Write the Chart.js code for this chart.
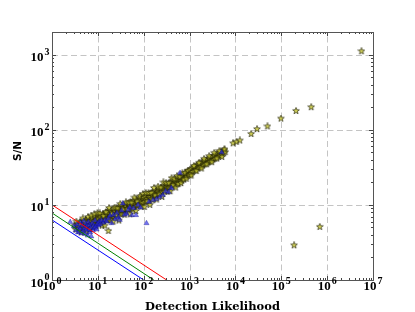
<!DOCTYPE html>
<html>
<head>
<meta charset="utf-8">
<script src="https://cdn.jsdelivr.net/npm/chart.js@4/dist/chart.umd.min.js"></script>
<style>
  body { margin: 0; background: #fff; }
</style>
</head>
<body>
<canvas id="ichart" width="415" height="312"></canvas>
<script>
// Detection likelihood vs S/N
// stars: main sequence, low end (DL 3 - 11)
const starDL_a = [3.1,3.3,3.5,3.7,3.9,4.1,4.3,4.4,4.6,4.8,5.0,5.1,5.3,5.5,5.7,5.9,6.1,6.3,6.5,6.7,6.9,7.1,7.4,7.6,7.9,8.2,8.5,8.8,9.1,9.4,9.7,10.0,10.3,10.6,10.9,
    3.4,3.9,4.3,4.7,5.2,5.6,6.1,6.6,7.2,7.8,8.4,9.0,9.8,10.5];
const starSN_a = [5.3,4.7,5.6,5.0,4.5,5.9,5.2,4.8,5.5,6.1,4.6,5.8,5.1,6.3,4.9,5.6,6.0,5.3,6.5,4.8,5.9,6.2,5.4,6.7,5.7,6.0,6.9,5.5,6.4,5.9,7.1,6.2,6.6,5.8,7.3,
    6.0,5.4,4.3,6.6,5.9,4.4,6.9,4.7,7.2,5.0,7.5,5.2,7.8,5.6];
// DL 11 - 100
const starDL_b = [11.3,11.7,12.1,12.5,13.0,13.4,13.9,14.4,14.9,15.4,16.0,16.6,17.2,17.8,18.4,19.1,19.8,20.5,21.2,22.0,22.8,23.6,24.5,25.4,26.3,27.2,28.2,29.2,30.3,31.4,32.5,33.7,34.9,36.2,37.5,38.8,40.2,41.7,43.2,44.7,46.3,48.0,49.7,51.5,53.4,55.3,57.3,59.4,61.5,63.7,66.0,68.4,70.9,73.4,76.1,78.8,81.6,84.6,87.6,90.8,94.1,97.5,
    11.0,12.3,13.2,14.1,15.1,16.3,17.5,18.9,20.2,21.6,23.2,24.9,26.8,28.7,30.8,33.0,35.5,38.1,40.9,43.9,47.1,50.6,54.3,58.3,62.6,67.2,72.1,77.4,83.1,89.2,95.7];
const starSN_b = [6.8,5.9,7.2,6.4,7.6,6.1,7.0,6.6,7.9,6.3,7.4,8.2,6.7,7.7,7.1,8.4,6.9,7.9,7.3,8.7,7.0,8.1,7.6,9.0,7.3,8.5,7.9,9.3,7.6,8.8,8.2,9.7,7.9,9.1,8.5,10.1,8.2,9.5,8.8,10.4,8.6,9.9,9.2,10.9,8.9,10.2,9.6,11.3,9.3,10.6,10.0,11.8,9.7,11.0,10.4,12.2,10.1,11.5,10.8,12.7,10.5,11.9,
    7.7,5.3,7.1,5.3,8.0,6.3,9.1,6.2,7.6,6.0,9.2,7.3,9.0,6.2,10.3,7.5,8.7,7.4,10.8,8.7,10.7,7.5,10.7,8.7,12.5,8.3,11.1,9.8,13.0,9.5,13.9];
// DL 100 - 1000
const starDL_c = [101,105,109,113,118,123,128,133,139,145,151,157,164,171,178,186,194,202,211,220,229,239,249,260,271,282,294,307,320,334,348,363,378,394,411,428,446,465,485,506,527,549,572,596,621,647,674,702,732,763,795,829,864,900,938,978,
    104,111,119,127,136,146,156,167,179,191,205,219,235,251,269,288,308,330,353,378,405,433,464,497,532,569,609,652,698,747,800,856,917,982];
const starSN_c = [12.4,10.9,13.0,11.5,12.1,13.6,11.3,12.8,14.1,12.0,13.4,14.8,12.6,14.0,13.2,15.4,13.7,14.9,16.0,14.2,15.5,16.7,14.9,16.3,17.5,15.6,17.0,18.3,16.2,17.7,19.1,16.9,18.5,20.0,17.6,19.3,20.8,18.4,20.1,21.7,19.2,21.0,22.6,20.0,21.9,23.6,20.9,22.8,24.6,22.4,24.9,26.3,23.8,26.9,28.4,25.6,
    9.4,14.4,11.1,14.4,10.0,14.4,11.5,16.8,13.4,11.8,17.5,13.7,17.0,12.8,19.9,15.0,19.6,15.0,19.4,15.2,22.7,18.2,22.2,17.0,24.2,18.9,23.6,19.5,26.3,21.7,26.7,22.3,28.6,24.7];
// DL 1000 - 6000
const starDL_d = [1020,1065,1110,1160,1210,1265,1320,1380,1440,1500,1570,1640,1710,1790,1870,1950,2040,2130,2220,2320,2420,2530,2640,2760,2880,3010,3140,3280,3430,3580,3740,3900,4080,4260,4450,4650,4850,5070,5290,5530,5770,6020,
    1090,1240,1410,1600,1820,2070,2350,2670,3040,3450,3920,4460,5070,5760];
const starSN_d = [28.8,25.9,30.1,27.4,31.2,28.6,32.3,29.4,33.4,30.6,34.5,31.5,35.6,32.4,36.7,33.5,37.6,34.6,38.8,35.6,40.0,36.7,41.2,37.8,42.4,39.0,43.6,40.1,44.8,41.4,46.0,42.6,47.5,44.0,48.8,45.4,50.3,47.0,51.8,48.6,53.5,50.4,
    24.6,33.0,28.2,36.3,30.5,41.0,34.7,44.6,37.0,49.3,41.4,52.3,43.6,55.1];
// isolated stars
const starDL_e = [17,8900,10500,12500,22000,29600,50000,98000,210000,450000,5600000,190000,690000];
const starSN_e = [4.5,66,69,72,88,102,111,141,178,200,1110,2.9,5.1];

// blue triangles
const triDL = [2.5,3.0,3.3,3.5,3.7,3.9,4.1,4.2,4.4,4.6,4.8,4.9,5.1,5.3,5.5,5.6,5.8,6.0,6.2,6.4,6.6,6.8,7.0,7.2,7.5,7.8,8.1,8.4,8.7,9.0,9.4,9.8,10.2,10.7,11.2,
    12,13,14.3,15.5,17,18.5,20,22,24,26,28,30,33,35,38,42,46,50,55,60,68,75,85,115,130,160,190,225,260,300,350,400,620,5000];
const triSN = [5.9,5.2,4.6,5.5,4.3,5.0,4.8,5.8,4.2,5.3,4.5,6.1,4.9,4.1,5.6,4.7,5.2,3.9,5.9,4.6,5.4,4.3,5.0,3.8,5.7,4.6,5.3,4.9,6.2,5.1,4.7,5.6,5.3,6.0,5.5,
    6.2,5.8,6.3,6.0,6.6,7.2,5.7,7.4,6.5,7.8,6.8,6.3,8.4,10.4,7.4,7.6,8.6,9.3,7.3,9.0,7.3,10.0,9.2,5.7,11.0,11.6,12.0,12.8,13.5,15.2,14.8,16.8,26.6,50];

// threshold lines (start at DL = 1, end where S/N = 1)
const redDL = [1, 316];
const redSN = [10, 1];
const greenDL = [1, 166];
const greenSN = [7.8, 1];
const blueDL = [1, 100];
const blueSN = [6.3, 1];

const xTicks = [1, 10, 100, 1000, 10000, 100000, 1000000, 10000000];
const yTicks = [1, 10, 100, 1000];

function toPoints(xs, ys) {
    const out = [];
    for (let i = 0; i < xs.length; i++) out.push({ x: xs[i], y: ys[i] });
    return out;
}

const starPts = [].concat(
    toPoints(starDL_a, starSN_a), toPoints(starDL_b, starSN_b),
    toPoints(starDL_c, starSN_c), toPoints(starDL_d, starSN_d),
    toPoints(starDL_e, starSN_e));

// five pointed star marker
function makeStar(size) {
    const c = document.createElement("canvas");
    c.width = size; c.height = size;
    const ctx = c.getContext("2d");
    const cx = size / 2, cy = size / 2, R = size / 2 - 0.5, r = R * 0.42;
    ctx.beginPath();
    for (let i = 0; i < 10; i++) {
        const a = -Math.PI / 2 + i * Math.PI / 5;
        const rr = i % 2 === 0 ? R : r;
        ctx.lineTo(cx + rr * Math.cos(a), cy + rr * Math.sin(a));
    }
    ctx.closePath();
    ctx.fillStyle = "rgba(195,195,45,0.8)";
    ctx.fill();
    ctx.lineWidth = 0.8;
    ctx.strokeStyle = "rgba(25,25,0,0.8)";
    ctx.stroke();
    return c;
}

const MAIN_FONT = "bold 13px 'Liberation Serif'";
const SUP_FONT = "bold 10px 'Liberation Serif'";

// dashed grid drawn under the points
const gridPlugin = {
    id: "dashgrid",
    beforeDatasetsDraw(chart) {
        const { ctx, chartArea: a, scales } = chart;
        ctx.save();
        ctx.strokeStyle = "#c4c4c4";
        ctx.lineWidth = 1;
        ctx.setLineDash([6, 3.5]);
        ctx.beginPath();
        xTicks.slice(1, -1).forEach(v => {
            const px = Math.round(scales.x.getPixelForValue(v)) + 0.5;
            ctx.moveTo(px, a.bottom); ctx.lineTo(px, a.top);
        });
        yTicks.slice(1).forEach(v => {
            const py = Math.round(scales.y.getPixelForValue(v)) + 0.5;
            ctx.moveTo(a.left, py); ctx.lineTo(a.right, py);
        });
        ctx.stroke();
        ctx.restore();
    }
};

// frame, inward ticks, 10^n labels and axis titles
const framePlugin = {
    id: "frame",
    afterDraw(chart) {
        const { ctx, chartArea: a, scales } = chart;
        ctx.save();
        ctx.strokeStyle = "#444";
        ctx.lineWidth = 1;
        ctx.beginPath();
        for (let d = 1; d <= 1e6; d *= 10) {
            for (let k = 1; k < 10; k++) {
                const px = Math.round(scales.x.getPixelForValue(d * k)) + 0.5;
                const len = k === 1 ? 4 : 2;
                ctx.moveTo(px, a.bottom); ctx.lineTo(px, a.bottom - len);
                ctx.moveTo(px, a.top); ctx.lineTo(px, a.top + len);
            }
        }
        for (let d = 1; d <= 1000; d *= 10) {
            for (let k = 1; k < 10; k++) {
                if (d * k > 2000) break;
                const py = Math.round(scales.y.getPixelForValue(d * k)) + 0.5;
                const len = k === 1 ? 4 : 2;
                ctx.moveTo(a.left, py); ctx.lineTo(a.left + len, py);
                ctx.moveTo(a.right, py); ctx.lineTo(a.right - len, py);
            }
        }
        ctx.stroke();
        ctx.strokeStyle = "#555";
        ctx.strokeRect(Math.round(a.left) + 0.5, Math.round(a.top) + 0.5, Math.round(a.right - a.left), Math.round(a.bottom - a.top));

        // tick labels
        ctx.fillStyle = "#000";
        ctx.textBaseline = "alphabetic";
        ctx.textAlign = "left";
        const drawPow = (v, xLeft, base) => {
            const e = String(Math.round(Math.log10(v)));
            ctx.font = MAIN_FONT;
            const w1 = ctx.measureText("10").width;
            ctx.fillText("10", xLeft, base);
            ctx.font = SUP_FONT;
            ctx.fillText(e, xLeft + w1 + 1, base - 6.5);
        };
        const powWidth = v => {
            const e = String(Math.round(Math.log10(v)));
            ctx.font = MAIN_FONT;
            const w1 = ctx.measureText("10").width;
            ctx.font = SUP_FONT;
            return w1 + 1 + ctx.measureText(e).width;
        };
        xTicks.forEach(v => {
            const px = scales.x.getPixelForValue(v);
            drawPow(v, px - powWidth(v) / 2, 290);
        });
        yTicks.forEach(v => {
            const py = scales.y.getPixelForValue(v);
            drawPow(v, 49.5 - powWidth(v), py + 6.5);
        });

        // axis titles
        ctx.font = "bold 11.5px 'DejaVu Serif'";
        ctx.textAlign = "center";
        ctx.fillText("Detection Likelihood", (a.left + a.right) / 2, 310);
        ctx.translate(21, 151);
        ctx.rotate(-Math.PI / 2);
        ctx.font = "bold 10.5px 'DejaVu Sans'";
        ctx.fillText("S/N", 0, 0);
        ctx.restore();
    }
};

const starImg = makeStar(8);

new Chart("ichart", {
    type: "scatter",
    data: {
        datasets: [
            { type: "line", data: toPoints(redDL, redSN), borderColor: "rgb(255,0,0)", borderWidth: 1, pointRadius: 0, fill: false },
            { type: "line", data: toPoints(greenDL, greenSN), borderColor: "rgb(0,128,0)", borderWidth: 1, pointRadius: 0, fill: false },
            { type: "line", data: toPoints(blueDL, blueSN), borderColor: "rgb(0,0,255)", borderWidth: 1, pointRadius: 0, fill: false },
            {
                label: "triangles",
                data: toPoints(triDL, triSN),
                pointStyle: "triangle",
                pointRadius: 3,
                backgroundColor: "rgba(40,40,230,0.65)",
                borderColor: "rgba(0,0,120,0.6)",
                borderWidth: 0.5
            },
            {
                label: "stars",
                data: starPts,
                pointStyle: starImg,
                pointRadius: 4
            }
        ]
    },
    options: {
        responsive: false,
        animation: false,
        layout: { padding: { top: 32, right: 42, left: 0, bottom: 0 } },
        plugins: { legend: { display: false }, tooltip: { enabled: false } },
        scales: {
            x: {
                type: "logarithmic",
                min: 1, max: 1e7,
                afterBuildTicks: s => { s.ticks = xTicks.map(v => ({ value: v })); },
                afterFit: s => { s.height = 32; },
                ticks: { display: false },
                grid: { display: false },
                border: { display: false }
            },
            y: {
                type: "logarithmic",
                min: 1, max: 2000,
                afterBuildTicks: s => { s.ticks = yTicks.map(v => ({ value: v })); },
                afterFit: s => { s.width = 52; },
                ticks: { display: false },
                grid: { display: false },
                border: { display: false }
            }
        }
    },
    plugins: [gridPlugin, framePlugin]
});
</script>
</body>
</html>
